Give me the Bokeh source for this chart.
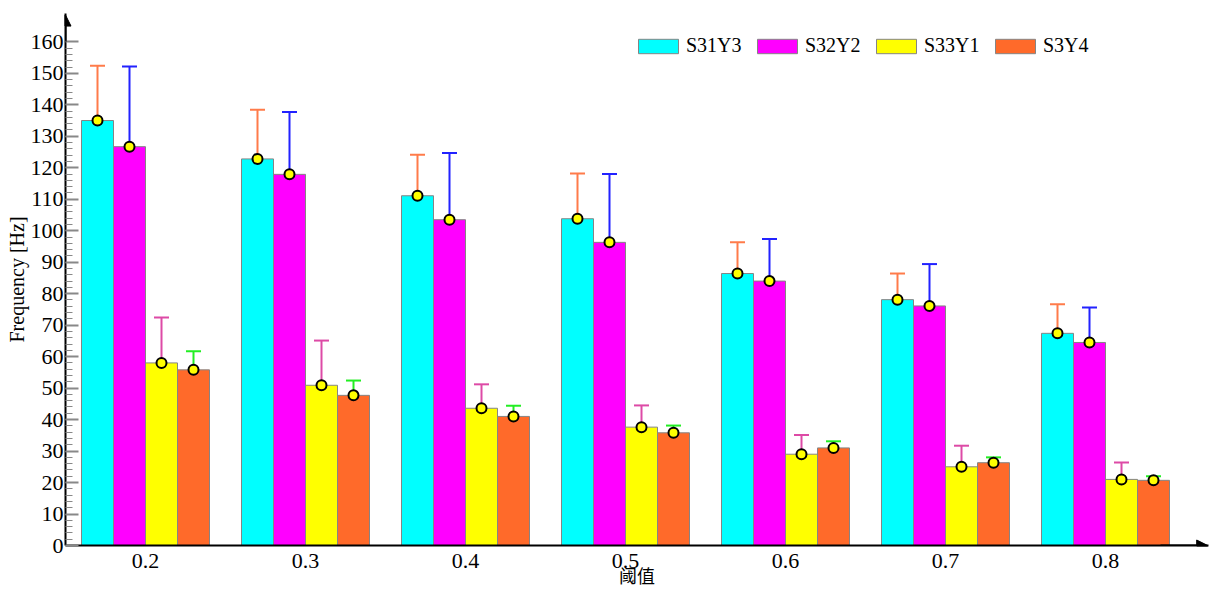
from bokeh.plotting import figure
from bokeh.models import (ColumnDataSource, Whisker, TeeHead, Range1d,
                          FixedTicker, Arrow, NormalHead)
from bokeh.embed import file_html
from bokeh.resources import INLINE

thresholds = ["0.2", "0.3", "0.4", "0.5", "0.6", "0.7", "0.8"]
series_names = ["S31Y3", "S32Y2", "S33Y1", "S3Y4"]

mean_s31y3 = [135.0, 122.8, 111.1, 103.8, 86.4, 78.1, 67.4]
mean_s32y2 = [126.7, 117.9, 103.5, 96.3, 84.0, 76.1, 64.5]
mean_s33y1 = [58.0, 50.9, 43.6, 37.6, 29.0, 25.0, 21.0]
mean_s3y4 = [55.8, 47.7, 41.0, 35.8, 31.0, 26.3, 20.7]

upper_s31y3 = [152.4, 138.4, 124.1, 118.2, 96.3, 86.4, 76.6]
upper_s32y2 = [152.2, 137.7, 124.7, 118.0, 97.4, 89.4, 75.6]
upper_s33y1 = [72.4, 65.1, 51.2, 44.5, 35.1, 31.7, 26.4]
upper_s3y4 = [61.7, 52.4, 44.4, 38.1, 33.1, 28.0, 22.0]

lower_s31y3 = [117.8, 107.1, 98.1, 89.6, 76.9, 69.8, 58.3]
lower_s32y2 = [101.0, 98.2, 82.8, 75.0, 70.6, 62.8, 53.6]
lower_s33y1 = [43.8, 36.9, 36.0, 30.7, 22.8, 18.2, 15.6]
lower_s3y4 = [49.9, 42.9, 37.6, 33.3, 29.0, 24.3, 19.6]

y_ticks = list(range(0, 161, 10))
y_minor = list(range(0, 161, 2))

means = [mean_s31y3, mean_s32y2, mean_s33y1, mean_s3y4]
uppers = [upper_s31y3, upper_s32y2, upper_s33y1, upper_s3y4]
lowers = [lower_s31y3, lower_s32y2, lower_s33y1, lower_s3y4]

bar_colors = ["#00FFFF", "#FF00FF", "#FFFF00", "#FF6A2A"]
err_colors = ["#FF7B4A", "#2222FF", "#DD4AA6", "#22EE22"]
offsets = [-0.3, -0.1, 0.1, 0.3]

SERIF = "'Liberation Serif'"
CJK = "'Noto Sans CJK SC'"

W, H = 1211, 590
left, right, top, bottom = 65, 3, 13, 45
frame_w = W - left - right
x_end = -0.5 + frame_w / 160.0

p = figure(width=W, height=H, output_backend="svg", toolbar_location=None,
           x_range=Range1d(-0.5, x_end), y_range=Range1d(0, 169),
           min_border_left=left, min_border_right=right,
           min_border_top=top, min_border_bottom=bottom)
p.outline_line_color = None
p.xgrid.grid_line_color = None
p.ygrid.grid_line_color = None
p.background_fill_color = "white"

idx = list(range(len(thresholds)))

for k in range(4):
    xs = [i + offsets[k] for i in idx]
    src = ColumnDataSource(dict(x=xs, top=means[k], upper=uppers[k], lower=lowers[k]))
    p.vbar(x="x", top="top", width=0.2, source=src, fill_color=bar_colors[k],
           line_color="#858585", line_width=1, legend_label=series_names[k])
    c = err_colors[k]
    w = Whisker(source=src, base="x", upper="upper", lower="lower",
                line_color=c, line_width=2,
                upper_head=TeeHead(size=15, line_color=c, line_width=2),
                lower_head=TeeHead(size=15, line_color=c, line_width=2))
    p.add_layout(w)

for k in range(4):
    xs = [i + offsets[k] for i in idx]
    src = ColumnDataSource(dict(x=xs, y=means[k]))
    p.scatter(x="x", y="y", source=src, size=10, fill_color="#FFFF00",
              line_color="black", line_width=2)

# shared tick label styling
p.axis.major_label_text_font = SERIF
p.axis.major_label_text_font_size = "22px"
p.axis.major_label_text_color = "black"
p.axis.axis_label_text_font_style = "normal"
p.axis.axis_label_text_color = "black"

# x axis
p.xaxis.ticker = FixedTicker(ticks=idx)
p.xaxis.major_label_overrides = {i: t for i, t in zip(idx, thresholds)}
p.xaxis.major_tick_line_color = None
p.xaxis.minor_tick_line_color = None
p.xaxis.axis_line_color = "black"
p.xaxis.axis_line_width = 2
p.xaxis.major_label_standoff = 2
p.xaxis.axis_label = "阈值"
p.xaxis.axis_label_text_font = CJK
p.xaxis.axis_label_text_font_size = "18px"
p.xaxis.axis_label_standoff = -9

# y axis
p.yaxis.ticker = FixedTicker(ticks=y_ticks, minor_ticks=y_minor)
p.yaxis.axis_line_color = "black"
p.yaxis.axis_line_width = 2
p.yaxis.major_tick_in = 13
p.yaxis.major_tick_out = 0
p.yaxis.minor_tick_in = 7
p.yaxis.minor_tick_out = 0
p.yaxis.major_tick_line_color = "#888888"
p.yaxis.minor_tick_line_color = "#888888"
p.yaxis.major_tick_line_width = 2
p.yaxis.minor_tick_line_width = 1
p.yaxis.major_label_standoff = 2
p.yaxis.axis_label = "Frequency [Hz]"
p.yaxis.axis_label_text_font = SERIF
p.yaxis.axis_label_text_font_size = "20px"
p.yaxis.axis_label_standoff = 0

# axis arrows
p.add_layout(Arrow(end=NormalHead(size=11, fill_color="black", line_color="black"),
                   x_start=-0.5, y_start=160, x_end=-0.5, y_end=168.5,
                   line_color="black", line_width=2))
p.add_layout(Arrow(end=NormalHead(size=11, fill_color="black", line_color="black"),
                   x_start=x_end - 0.3, y_start=0, x_end=x_end - 0.005, y_end=0,
                   line_color="black", line_width=2))

lg = p.legend[0]
lg.orientation = "horizontal"
lg.location = (633 - left, 488)
lg.glyph_width = 50
lg.glyph_height = 18
lg.label_standoff = 3
lg.spacing = 10
lg.label_width = 56
lg.padding = 0
lg.margin = 0
lg.border_line_alpha = 0
lg.background_fill_alpha = 0
lg.label_text_font = SERIF
lg.label_text_font_size = "20px"
lg.label_text_color = "black"

open("out.html", "w").write(file_html(p, INLINE))
